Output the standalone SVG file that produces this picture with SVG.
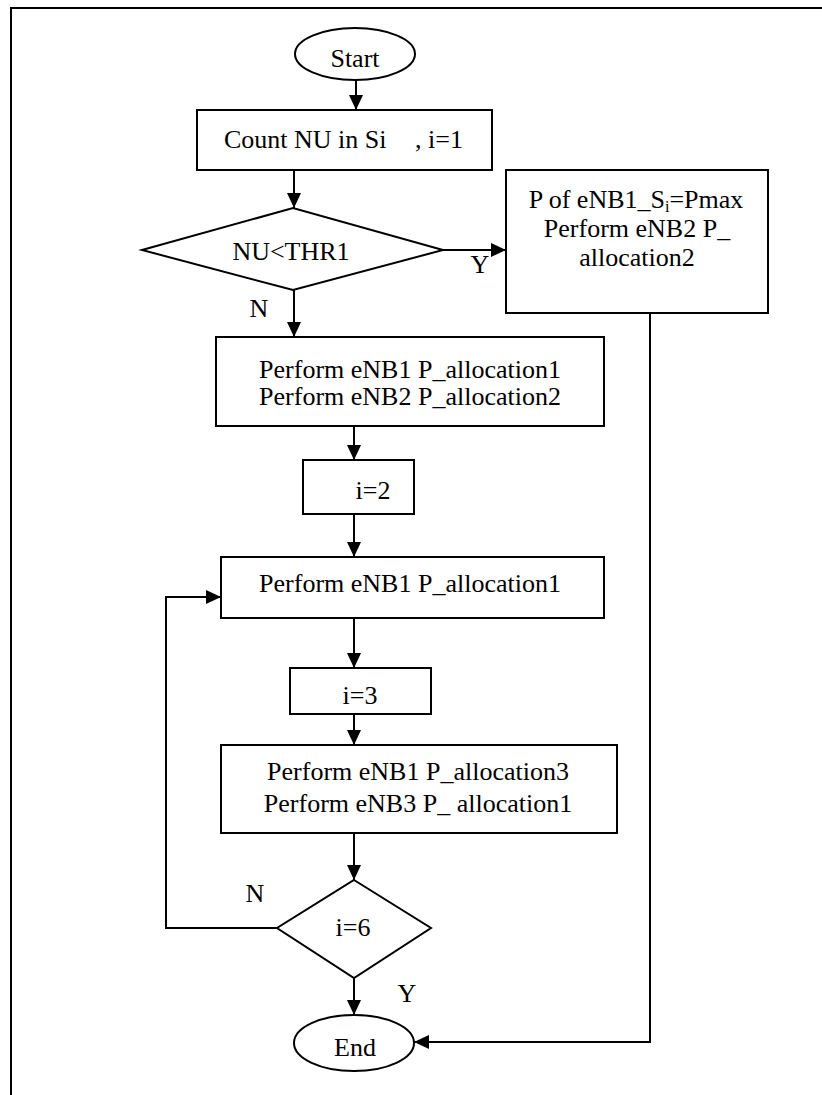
<svg xmlns="http://www.w3.org/2000/svg" width="822" height="1095" viewBox="0 0 822 1095">
<style>
.s{fill:#fff;stroke:#000;stroke-width:2}
.c{fill:none;stroke:#000;stroke-width:2}
text{font-family:"Liberation Serif","Times New Roman",serif;font-size:26px;fill:#000}
.m{text-anchor:middle}
</style>
<defs>
<marker id="ah" markerUnits="userSpaceOnUse" markerWidth="15" markerHeight="14" refX="15" refY="7" orient="auto">
<path d="M0,0 L15,7 L0,14 Z" fill="#000"/>
</marker>
</defs>
<rect width="822" height="1095" fill="#fff"/>
<g id="frame"><path class="c" d="M11,1095 V8 H822"/></g>
<g id="connectors">
<path class="c" d="M356,80 V110" marker-end="url(#ah)"/>
<path class="c" d="M294,170 V208" marker-end="url(#ah)"/>
<path class="c" d="M443,250 H506" marker-end="url(#ah)"/>
<path class="c" d="M294,290 V337" marker-end="url(#ah)"/>
<path class="c" d="M354,426 V460" marker-end="url(#ah)"/>
<path class="c" d="M354,514 V557" marker-end="url(#ah)"/>
<path class="c" d="M354,618 V668" marker-end="url(#ah)"/>
<path class="c" d="M354,714 V745" marker-end="url(#ah)"/>
<path class="c" d="M354,833 V880" marker-end="url(#ah)"/>
<path class="c" d="M277,928 H166 V597 H221" marker-end="url(#ah)"/>
<path class="c" d="M354,978 V1015" marker-end="url(#ah)"/>
<path class="c" d="M650,313 V1042 H414" marker-end="url(#ah)"/>
<text x="480" y="273" class="m">Y</text>
<text x="259" y="317" class="m">N</text>
<text x="255" y="902" class="m">N</text>
<text x="407" y="1002" class="m">Y</text>
</g>
<g id="start"><ellipse class="s" cx="355" cy="54" rx="60" ry="26"/><text x="355" y="67" class="m">Start</text></g>
<g id="count"><rect class="s" x="197" y="110" width="295" height="60"/><text x="224" y="148">Count NU in Si</text><text x="463" y="148" text-anchor="end">, i=1</text></g>
<g id="dec1"><polygon class="s" points="142,250 293,208 443,250 293,290"/><text x="291" y="260" class="m">NU&lt;THR1</text></g>
<g id="pmax"><rect class="s" x="506" y="170" width="262" height="143"/>
<text x="636" y="208" class="m">P of eNB1_S<tspan font-size="16" dy="4">i</tspan><tspan dy="-4">=Pmax</tspan></text>
<text x="637" y="237" class="m">Perform eNB2 P_</text>
<text x="637" y="266" class="m">allocation2</text></g>
<g id="box1"><rect class="s" x="216" y="337" width="388" height="89"/>
<text x="410" y="378" class="m">Perform eNB1 P_allocation1</text>
<text x="410" y="405" class="m">Perform eNB2 P_allocation2</text></g>
<g id="i2"><rect class="s" x="303" y="460" width="111" height="54"/><text x="373" y="499" class="m">i=2</text></g>
<g id="box2"><rect class="s" x="221" y="557" width="383" height="61"/><text x="410" y="592" class="m">Perform eNB1 P_allocation1</text></g>
<g id="i3"><rect class="s" x="290" y="668" width="141" height="46"/><text x="360" y="704" class="m">i=3</text></g>
<g id="box3"><rect class="s" x="221" y="745" width="396" height="88"/>
<text x="418" y="780" class="m">Perform eNB1 P_allocation3</text>
<text x="418" y="812" class="m">Perform eNB3 P_ allocation1</text></g>
<g id="dec2"><polygon class="s" points="354,880 431,928 354,978 277,928"/><text x="353" y="936" class="m">i=6</text></g>
<g id="end"><ellipse class="s" cx="354" cy="1043" rx="60" ry="28"/><text x="355" y="1056" class="m">End</text></g>
</svg>
